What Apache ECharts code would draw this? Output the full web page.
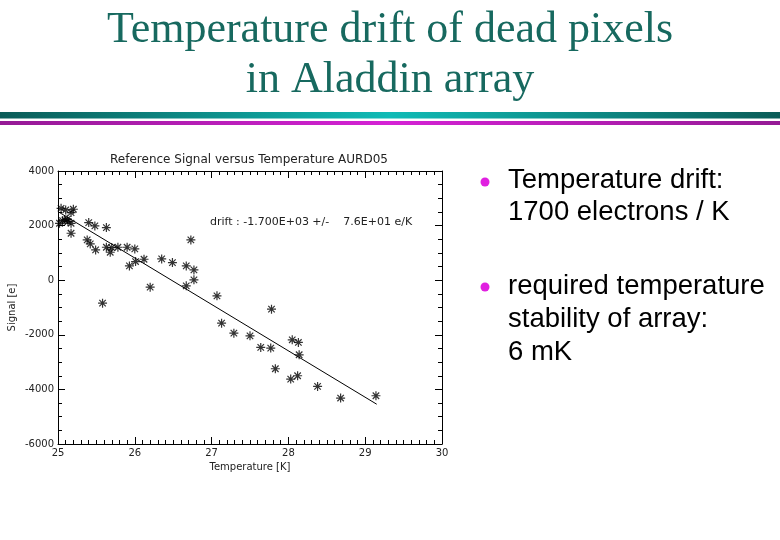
<!DOCTYPE html>
<html>
<head>
<meta charset="utf-8">
<script src="https://cdn.jsdelivr.net/npm/echarts@6/dist/echarts.min.js"></script>
<style>
html,body{margin:0;padding:0;background:#fff;}
#c{width:780px;height:540px;}
</style>
</head>
<body>
<div id="c"></div>
<script>
// ---- data ----
const temperatureK = [25.04,25.10,25.20,25.17,25.09,25.13,25.02,25.17,25.17,25.40,25.48,25.63,25.38,25.42,25.49,25.63,25.70,25.68,25.78,25.90,26.00,25.93,26.01,26.12,26.35,26.49,26.67,26.77,26.73,26.77,26.67,26.20,25.58,27.07,27.13,27.29,27.50,27.64,27.77,27.78,27.83,28.05,28.13,28.14,28.03,28.12,28.38,28.68,29.14,25.06,25.12];
const signalE = [2634,2573,2598,2476,2207,2146,2085,2085,1720,2110,1988,1927,1476,1329,1110,1207,1195,1024,1207,1207,1146,524,683,768,780,646,524,378,1476,12,-207,-256,-841,-573,-1573,-1939,-2037,-2463,-2488,-1061,-3244,-2183,-2280,-2732,-3622,-3500,-3890,-4317,-4232,2180,2230];
const fitT = [25.0, 29.15];
const fitSignal = [2512, -4543];
const xTicks = [25,26,27,28,29,30];
const yTicks = [-6000,-4000,-2000,0,2000,4000];
const slideTitle = ['Temperature drift of dead pixels','in Aladdin array'];
const bullet1 = ['Temperature drift:','1700 electrons / K'];
const bullet2 = ['required temperature','stability of array:','6 mK'];
const plotTitle = 'Reference Signal versus Temperature AURD05';
const driftNote = 'drift : -1.700E+03 +/-    7.6E+01 e/K';

const chart = echarts.init(document.getElementById('c'), null, {renderer:'canvas'});
const pts = temperatureK.map((t,i)=>[t, signalE[i]]);
const fit = fitT.map((t,i)=>[t, fitSignal[i]]);
const star = 'path://M0,-1L0,1M-1,0L1,0M-0.72,-0.72L0.72,0.72M-0.72,0.72L0.72,-0.72';
const tf = 'DejaVu Sans';
const ink = '#222';

const axisLine = {show:true,onZero:false,lineStyle:{color:'#000',width:1}};
const axisTick = {show:true,inside:true,length:7,lineStyle:{color:'#000'}};

function txt(x,y,s,font,size,color,align){
  return {type:'text',x:x,y:y,style:{text:s,font:size+'px '+font,fill:color,textAlign:align||'left',textVerticalAlign:'middle'},silent:true};
}

const gfx = [];
const sf = '"Liberation Serif", "Times New Roman", serif';
gfx.push(txt(390,30,slideTitle[0],sf,44,'#17695f','center'));
gfx.push(txt(390,80,slideTitle[1],sf,44,'#17695f','center'));
gfx.push({type:'rect',shape:{x:0,y:112,width:780,height:6.5},style:{fill:new echarts.graphic.LinearGradient(0,0,1,0,[{offset:0,color:'#0b5c58'},{offset:0.5,color:'#10bbb6'},{offset:1,color:'#0b5c58'}])},silent:true});
gfx.push({type:'rect',shape:{x:0,y:121,width:780,height:4},style:{fill:new echarts.graphic.LinearGradient(0,0,1,0,[{offset:0,color:'#951a95'},{offset:0.5,color:'#d522d5'},{offset:1,color:'#951a95'}])},silent:true});
gfx.push({type:'circle',shape:{cx:485,cy:182,r:4.5},style:{fill:'#e020e0'},silent:true});
gfx.push({type:'circle',shape:{cx:485,cy:287,r:4.5},style:{fill:'#e020e0'},silent:true});
const bf = '"Liberation Sans", Arial, sans-serif';
gfx.push(txt(508,180,bullet1[0],bf,27.5,'#000'));
gfx.push(txt(508,212,bullet1[1],bf,27.5,'#000'));
gfx.push(txt(508,286,bullet2[0],bf,27.5,'#000'));
gfx.push(txt(508,319,bullet2[1],bf,27.5,'#000'));
gfx.push(txt(508,352,bullet2[2],bf,27.5,'#000'));
gfx.push(txt(249,160,plotTitle,tf,12,ink,'center'));
gfx.push(txt(210,222,driftNote,tf,11,ink,'left'));

function xAx(pos, labels){
  const a = {type:'value',min:25,max:30,interval:1,position:pos,
    axisLine:axisLine,axisTick:axisTick,splitLine:{show:false},
    minorTick:{show:true,splitNumber:10,length:4,lineStyle:{color:'#000'}},
    axisLabel:{show:labels,margin:4,fontFamily:tf,fontSize:10,color:ink,
      formatter:v=>xTicks.indexOf(v)>=0?String(v):''}};
  if(labels){a.name='Temperature [K]';a.nameLocation='middle';a.nameGap=17;a.nameTextStyle={fontFamily:tf,fontSize:10,color:ink};}
  return a;
}
function yAx(pos, labels){
  const a = {type:'value',min:-6000,max:4000,interval:2000,position:pos,
    axisLine:axisLine,axisTick:axisTick,splitLine:{show:false},
    minorTick:{show:true,splitNumber:4,length:4,lineStyle:{color:'#000'}},
    axisLabel:{show:labels,margin:4,fontFamily:tf,fontSize:10,color:ink,
      formatter:v=>yTicks.indexOf(v)>=0?String(v):''}};
  if(labels){a.name='Signal [e]';a.nameLocation='middle';a.nameGap=41;a.nameRotate=90;a.nameTextStyle={fontFamily:tf,fontSize:10,color:ink};}
  return a;
}

chart.setOption({
  animation:false,
  backgroundColor:'#fff',
  grid:{left:58,top:171,width:384,height:273,containLabel:false},
  xAxis:[xAx('bottom',true), xAx('top',false)],
  yAxis:[yAx('left',true), yAx('right',false)],
  series:[
    {type:'line',xAxisIndex:0,yAxisIndex:0,data:fit,showSymbol:false,symbol:'none',
      lineStyle:{color:'#000',width:1},silent:true},
    {type:'scatter',xAxisIndex:0,yAxisIndex:0,data:pts,symbol:star,symbolSize:9,
      itemStyle:{color:'none',borderColor:'#000',borderWidth:1.2},silent:true}
  ],
  graphic:gfx
});
</script>
</body>
</html>
